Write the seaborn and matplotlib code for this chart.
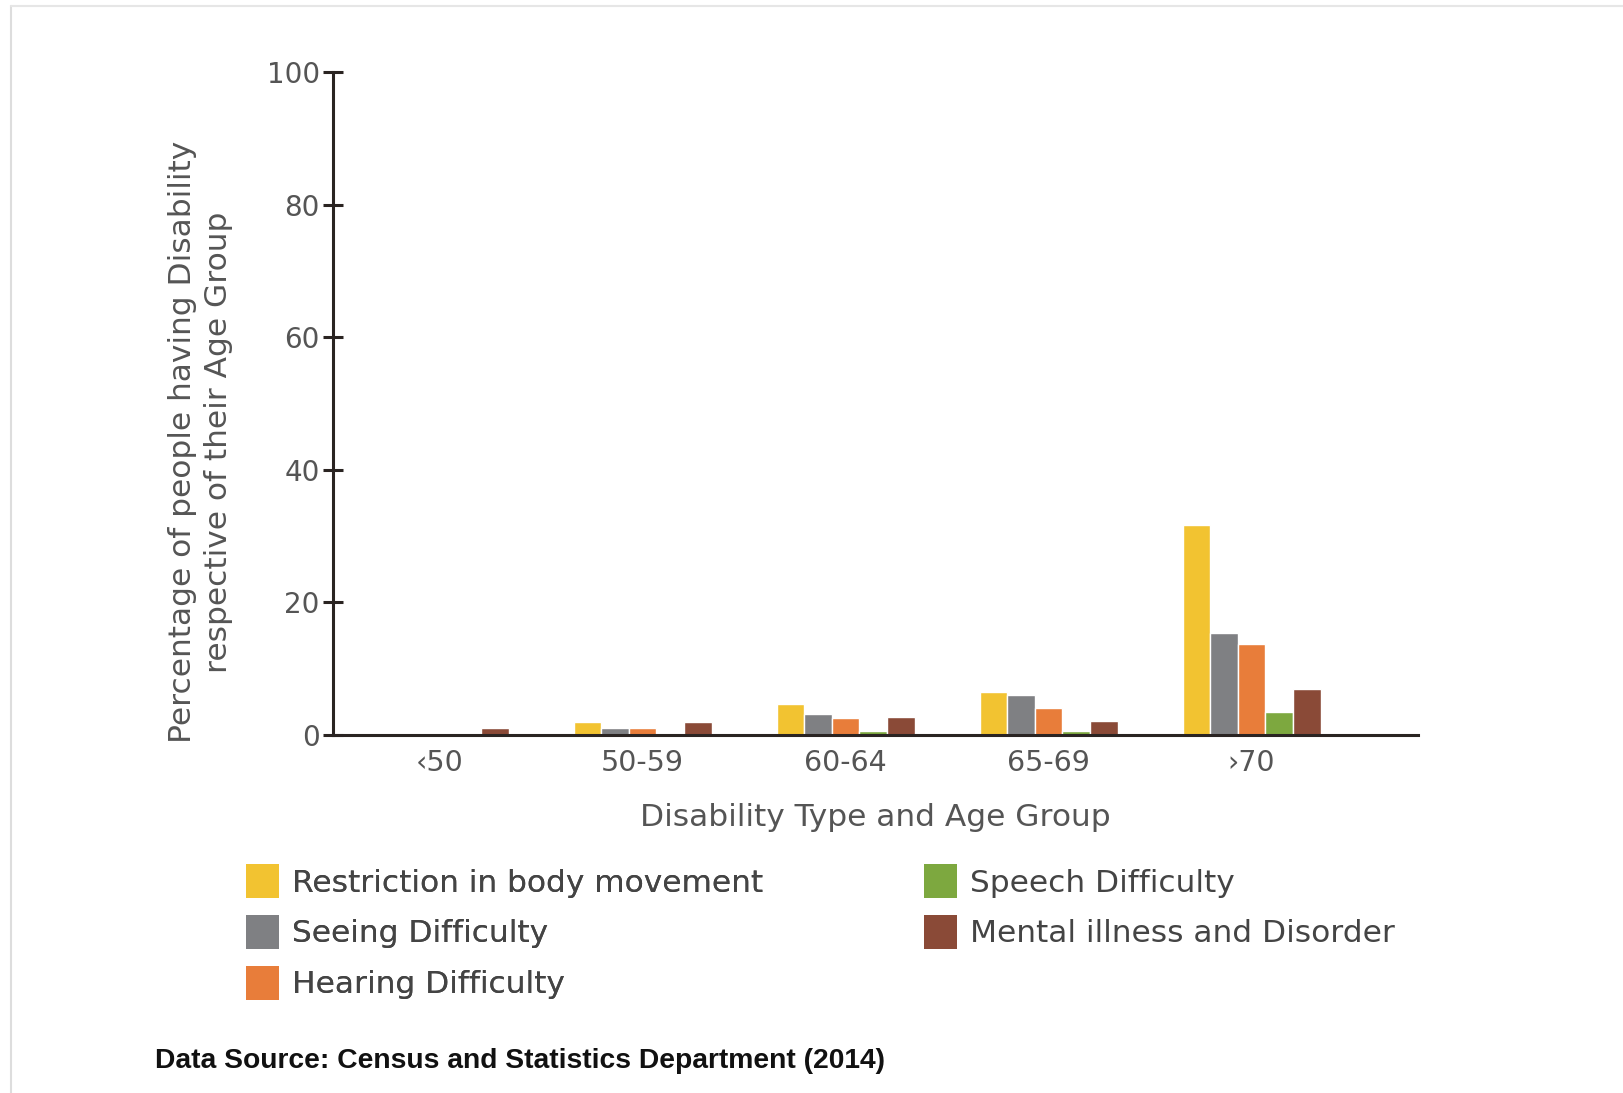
import matplotlib
matplotlib.use("Agg")
import matplotlib.pyplot as plt
import seaborn as sns
import pandas as pd
from matplotlib.patches import Patch
from matplotlib.lines import Line2D

age_groups = ["‹50", "50-59", "60-64", "65-69", "›70"]
disabilities = ["Restriction in body movement", "Seeing Difficulty", "Hearing Difficulty",
                "Speech Difficulty", "Mental illness and Disorder"]
restriction = [0.0, 2.0, 4.7, 6.5, 31.6]
seeing = [0.0, 1.1, 3.1, 6.0, 15.4]
hearing = [0.0, 1.1, 2.5, 4.1, 13.8]
speech = [0.0, 0.0, 0.6, 0.6, 3.5]
mental = [1.1, 2.0, 2.7, 2.1, 7.0]
colors = ["#F2C331", "#7F8083", "#E87D3A", "#7DA83F", "#8A4A37"]

series = [restriction, seeing, hearing, speech, mental]
rows = []
for name, vals in zip(disabilities, series):
    for g, v in zip(age_groups, vals):
        rows.append({"Age": g, "Type": name, "Value": v})
df = pd.DataFrame(rows)

sns.set_theme(style="white")
plt.rcParams["font.family"] = ["DejaVu Sans"]

W, H = 1623, 1093
fig = plt.figure(figsize=(W / 100, H / 100), dpi=100)
ax = fig.add_axes([333 / W, 1 - 735 / H, (1418 - 333) / W, (735 - 72) / H])

sns.barplot(data=df, x="Age", y="Value", hue="Type", order=age_groups,
            hue_order=disabilities, palette=colors, width=0.68, gap=0,
            saturation=1, ax=ax, legend=False, errorbar=None)

ax.set_ylim(0, 100)
ax.set_xlim(-0.525, 4.82)
ax.set_yticks([0, 20, 40, 60, 80, 100])
for s in ["top", "right"]:
    ax.spines[s].set_visible(False)
ax.spines["left"].set_color("#2a2422")
ax.spines["bottom"].set_color("#2a2422")
ax.spines["left"].set_linewidth(2.2)
ax.spines["bottom"].set_linewidth(2.2)
ax.tick_params(axis="y", direction="inout", length=14, width=2.2, color="#2a2422",
               labelsize=20, labelcolor="#555555", pad=2.5, left=True)
ax.tick_params(axis="x", length=0, labelsize=20.5, labelcolor="#555555", pad=10)
ax.set_xlabel("Disability Type and Age Group", fontsize=22.5, color="#555555", labelpad=19)
ax.set_ylabel("Percentage of people having Disability\nrespective of their Age Group",
              fontsize=22.5, color="#555555", linespacing=1.32)
ax.yaxis.set_label_coords(-0.092, 0.442)

handles = [Patch(facecolor=c, edgecolor="none") for c in colors]
leg_kw = dict(loc="upper left", frameon=False, fontsize=22.5, handlelength=1.05,
              handleheight=1.31, handletextpad=0.42, labelspacing=0.53,
              labelcolor="#444444", borderaxespad=0, borderpad=0)
leg1 = fig.legend(handles[:3], disabilities[:3], bbox_to_anchor=(246 / W, 1 - 864 / H), **leg_kw)
fig.add_artist(leg1)
fig.legend(handles[3:], disabilities[3:], bbox_to_anchor=(924 / W, 1 - 864 / H), **leg_kw)

fig.text(155 / W, 1 - 1061 / H, "Data Source: Census and Statistics Department (2014)",
         fontsize=20.3, fontweight="bold", color="#111111", va="center", ha="left",
         family=["Liberation Sans", "DejaVu Sans"])

# faint frame
fig.add_artist(Line2D([11 / W, 11 / W], [0, 1 - 6 / H], transform=fig.transFigure,
                      color="#dddddd", lw=1.5))
fig.add_artist(Line2D([11 / W, 1], [1 - 6 / H, 1 - 6 / H], transform=fig.transFigure,
                      color="#e6e6e6", lw=1.5))

fig.savefig("out.png", dpi=100)
